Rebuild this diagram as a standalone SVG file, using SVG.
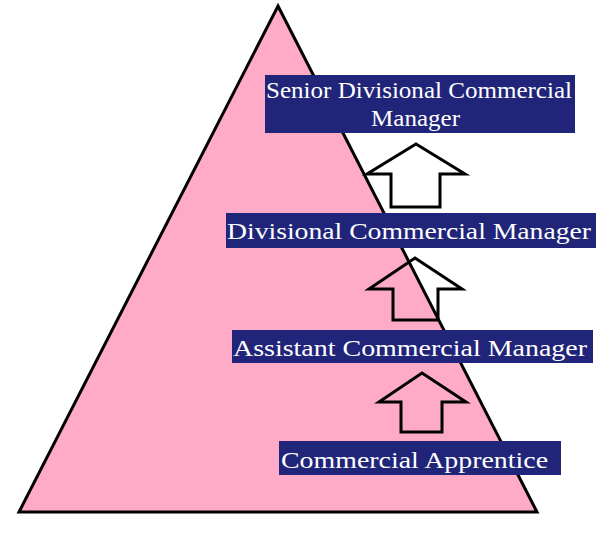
<svg xmlns="http://www.w3.org/2000/svg" width="616" height="543" viewBox="0 0 616 543">
<style>
.lbl{fill:#21257A}
.t{font-family:"Liberation Serif","DejaVu Serif",serif;font-size:24px;fill:#FFFFFF}
.arr{fill:none;stroke:#000;stroke-width:3;stroke-linejoin:miter}
</style>
<rect width="616" height="543" fill="#FFFFFF"/>
<g id="pyramid">
<polygon points="278,6 537,512 19,512" fill="#FFABC8" stroke="#000" stroke-width="3"/>
</g>
<g id="connectors">
<polygon class="arr" points="416,144 465,174 440,174 440,207 391,207 391,174 367,174"/>
<polygon class="arr" points="415,258 462,289 438,289 438,320 393,320 393,289 369,289"/>
<polygon class="arr" points="422,373 466,402 442,402 442,432 401,432 401,402 379,402"/>
</g>
<g id="senior">
<rect class="lbl" x="265" y="75" width="310" height="58"/>
<text class="t" x="266" y="98" textLength="306" lengthAdjust="spacingAndGlyphs">Senior Divisional Commercial</text>
<text class="t" x="371" y="126" textLength="89" lengthAdjust="spacingAndGlyphs">Manager</text>
</g>
<g id="divisional">
<rect class="lbl" x="226" y="213" width="370" height="35"/>
<text class="t" x="227" y="239" textLength="364" lengthAdjust="spacingAndGlyphs">Divisional Commercial Manager</text>
</g>
<g id="assistant">
<rect class="lbl" x="232" y="330" width="361" height="33"/>
<text class="t" x="233" y="356" textLength="354" lengthAdjust="spacingAndGlyphs">Assistant Commercial Manager</text>
</g>
<g id="apprentice">
<rect class="lbl" x="279" y="441" width="282" height="34"/>
<text class="t" x="281" y="468" textLength="267" lengthAdjust="spacingAndGlyphs">Commercial Apprentice</text>
</g>
</svg>
